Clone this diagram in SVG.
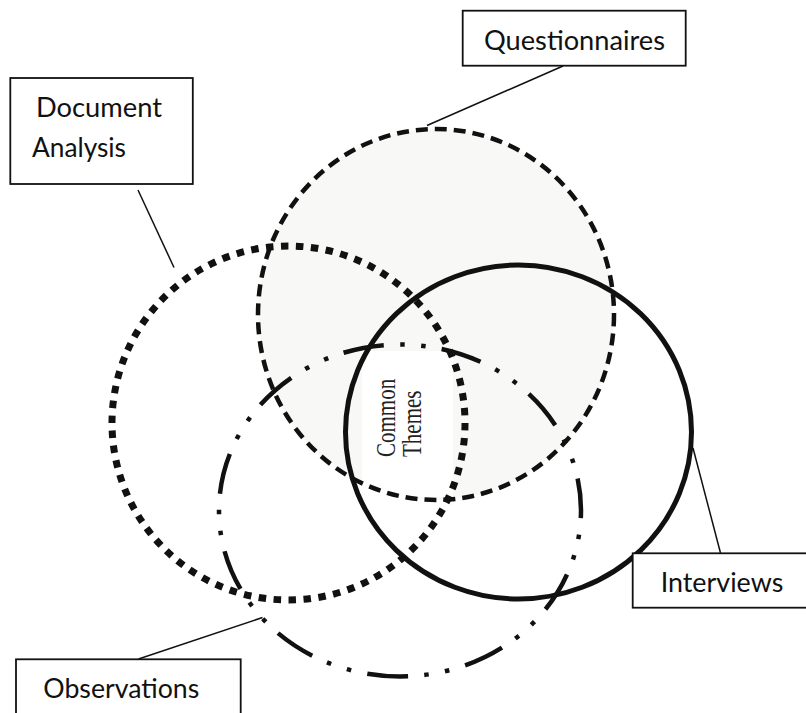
<svg xmlns="http://www.w3.org/2000/svg" width="806" height="713" viewBox="0 0 806 713">
  <style>
    .box { fill: #ffffff; stroke: #111111; stroke-width: 1.8; }
    .label { font-family: Lato, "Open Sans", "Liberation Sans", sans-serif; font-size: 27px; fill: #111111; }
    .lead { stroke: #111111; stroke-width: 1.5; fill: none; }
    .ring { fill: none; stroke: #111111; }
    .centre { font-family: "Liberation Serif", "Times New Roman", serif; font-size: 21px; fill: #222222; }
  </style>

  <rect width="806" height="713" fill="#ffffff"/>

  <!-- shaded area of the questionnaire set -->
  <ellipse cx="436" cy="314.5" rx="178" ry="185.5" fill="#f8f8f6"/>
  <!-- plain panel behind the central label -->
  <rect x="362" y="351" width="91" height="146" fill="#ffffff"/>

  <g id="set-questionnaires">
    <ellipse class="ring" cx="436" cy="314.5" rx="178" ry="185.5" stroke-width="4.5" stroke-dasharray="12 7"/>
  </g>
  <g id="set-document-analysis">
    <ellipse class="ring" cx="288.5" cy="423" rx="176.5" ry="177" stroke-width="7" stroke-dasharray="7.5 7.5"/>
  </g>
  <g id="set-interviews">
    <ellipse class="ring" cx="518.5" cy="432" rx="173" ry="167" stroke-width="5"/>
  </g>
  <g id="set-observations">
    <ellipse class="ring" cx="400" cy="510.5" rx="181" ry="166" stroke-width="4.5" stroke-dasharray="41 16.5 4.5 16.5 4.5 16.2" stroke-dashoffset="33.2"/>
  </g>

  <g id="connectors">
    <line class="lead" x1="563" y1="66" x2="427" y2="125.5"/>
    <line class="lead" x1="138" y1="190" x2="174" y2="267.5"/>
    <line class="lead" x1="720.5" y1="553" x2="693" y2="448"/>
    <line class="lead" x1="138.5" y1="659" x2="262.5" y2="617.5"/>
  </g>

  <g id="node-questionnaires">
    <rect class="box" x="462.7" y="10.7" width="223" height="55"/>
    <text class="label" x="484" y="49.5" textLength="181" lengthAdjust="spacingAndGlyphs">Questionnaires</text>
  </g>
  <g id="node-document-analysis">
    <rect class="box" x="10.3" y="78" width="182.5" height="106"/>
    <text class="label" x="36" y="117" textLength="126" lengthAdjust="spacingAndGlyphs">Document</text>
    <text class="label" x="32" y="157" textLength="94" lengthAdjust="spacingAndGlyphs">Analysis</text>
  </g>
  <g id="node-interviews">
    <rect class="box" x="632.7" y="553.3" width="180" height="54.4"/>
    <text class="label" x="660.7" y="591.7" textLength="122.6" lengthAdjust="spacingAndGlyphs">Interviews</text>
  </g>
  <g id="node-observations">
    <rect class="box" x="16" y="659.3" width="224.7" height="60"/>
    <text class="label" x="43.3" y="698.3" textLength="156" lengthAdjust="spacingAndGlyphs">Observations</text>
  </g>

  <g id="node-common-themes">
    <g transform="translate(395 457) rotate(-90) scale(1 1.3)">
      <text class="centre" x="0" y="0">Common</text>
      <text class="centre" x="0" y="20">Themes</text>
    </g>
  </g>
</svg>
